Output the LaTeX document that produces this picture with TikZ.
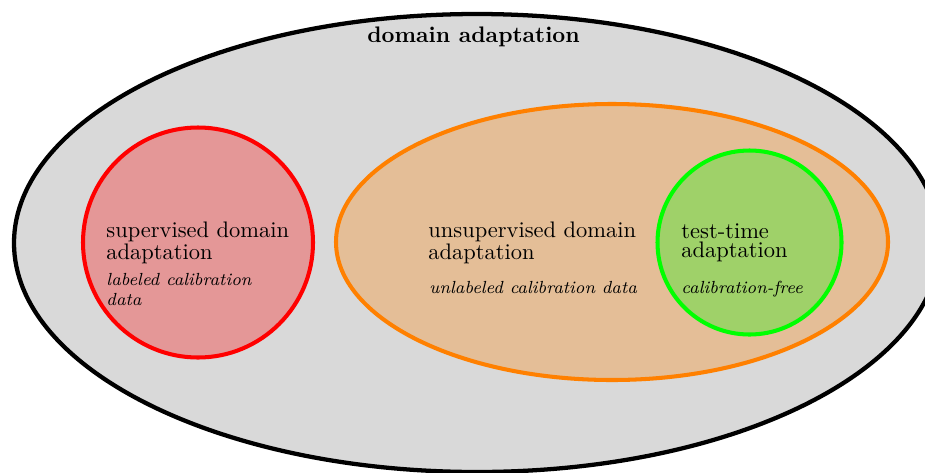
\documentclass[tikz,border=0pt]{standalone}
\tikzset{
  region/.style={line width=1.8pt, fill opacity=0.3},
  lbl/.style={anchor=base west, inner sep=0pt, font=\normalsize},
  note/.style={anchor=base west, inner sep=0pt, font=\fontsize{7.8pt}{9.5pt}\selectfont\itshape},
}
\begin{document}
\begin{tikzpicture}[x=0.445pt, y=-0.445pt]
  \useasboundingbox (0,0) rectangle (925,472);
  \clip (0,0) rectangle (925,472);

  % outer set: domain adaptation
  \draw[line width=1.9pt, fill=gray!30] (477,243) ellipse [x radius=463, y radius=229];
  \node[anchor=base, inner sep=0pt, font=\bfseries] (title) at (473.5,42) {domain adaptation};

  % supervised
  \draw[region, draw=red, fill=red] (198,242.5) circle [radius=115];
  \node[lbl] (sup1) at (106,237) {supervised domain};
  \node[lbl] (sup2) at (106,259) {adaptation};
  \node[note] (sup3) at (106,285) {labeled calibration};
  \node[note] (sup4) at (106,305) {data};

  % unsupervised
  \draw[region, draw={rgb,255:red,255;green,128;blue,0}, fill={rgb,255:red,255;green,128;blue,0}]
    (612,242) ellipse [x radius=276, y radius=138];
  \node[lbl] (uns1) at (428,237) {unsupervised domain};
  \node[lbl] (uns2) at (428,259) {adaptation};
  \node[note] (uns3) at (429,293) {unlabeled calibration data};

  % test-time
  \draw[region, draw=green, fill=green] (749.5,242.5) circle [radius=92];
  \node[lbl] (tta1) at (681,238) {test-time};
  \node[lbl] (tta2) at (681,257) {adaptation};
  \node[note] (tta3) at (681,293) {calibration-free};
\end{tikzpicture}
\end{document}
